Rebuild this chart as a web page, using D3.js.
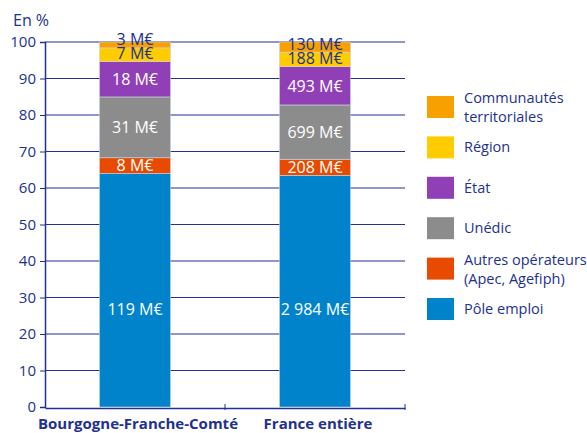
<!DOCTYPE html>
<html>
<head>
<meta charset="utf-8">
<script src="https://cdn.jsdelivr.net/npm/d3@7"></script>
<style>
  body { margin: 0; background: #fff; }
  text { font-family: "Open Sans", "Noto Sans", sans-serif; }
</style>
</head>
<body>
<div id="chart"></div>
<script>
  // Data
  var categories = ["Bourgogne-Franche-Comté", "France entière"];
  var series = ["Pôle emploi", "Autres opérateurs", "Unédic", "État", "Région", "Communautés"];
  var legendLabels = [["Pôle emploi"], ["Autres opérateurs", "(Apec, Agefiph)"], ["Unédic"], ["État"], ["Région"], ["Communautés", "territoriales"]];
  var poleEmploi = [119, 2984];
  var autresOperateurs = [8, 208];
  var unedic = [31, 699];
  var etat = [18, 493];
  var region = [7, 188];
  var communautes = [3, 130];
  var amountLabels = [
    ["119 M€", "2 984 M€"],
    ["8 M€", "208 M€"],
    ["31 M€", "699 M€"],
    ["18 M€", "493 M€"],
    ["7 M€", "188 M€"],
    ["3 M€", "130 M€"]
  ];
  var yTicks = [0, 10, 20, 30, 40, 50, 60, 70, 80, 90, 100];

  var colors = ["#0083ca", "#e84a00", "#8c8c8c", "#913fb7", "#ffcc00", "#f7a000"];
  var labelColors = ["#fff", "#fff", "#fff", "#fff", "#22318f", "#22318f"];
  var navy = "#22318f";

  var width = 587, height = 433;
  var svg = d3.select("#chart").append("svg")
      .attr("width", width)
      .attr("height", height);

  var rows = categories.map(function(c, i) {
    return {cat: c, "Pôle emploi": poleEmploi[i], "Autres opérateurs": autresOperateurs[i],
      "Unédic": unedic[i], "État": etat[i], "Région": region[i], "Communautés": communautes[i]};
  });

  var stack = d3.stack().keys(series).offset(d3.stackOffsetExpand);
  var layers = stack(rows);

  // Scales
  var xScale = d3.scaleBand()
      .domain(categories)
      .range([45, 405]);

  var yScale = d3.scaleLinear()
      .domain([0, 100])
      .range([407, 42]);

  var barW = 71;

  // Grid
  svg.append("g")
    .selectAll("line")
    .data(yTicks.filter(function(t) { return t > 0; }))
    .enter().append("line")
      .attr("x1", 45).attr("x2", 405)
      .attr("y1", function(d) { return yScale(d); })
      .attr("y2", function(d) { return yScale(d); })
      .attr("stroke", navy)
      .attr("stroke-width", 1.2);

  // Bars
  var layer = svg.selectAll(".layer")
      .data(layers)
      .enter().append("g")
      .attr("class", "layer")
      .attr("fill", function(d, i) { return colors[i]; });

  layer.selectAll("rect")
      .data(function(d) { return d; })
      .enter().append("rect")
      .attr("x", function(d) { return xScale(d.data.cat) + xScale.bandwidth() / 2 - barW / 2; })
      .attr("width", barW)
      .attr("y", function(d) { return yScale(d[1] * 100); })
      .attr("height", function(d) { return yScale(d[0] * 100) - yScale(d[1] * 100); })
      .attr("stroke", "#c9d3e6")
      .attr("stroke-width", 0.6);

  // Segment labels
  layers.forEach(function(l, si) {
    svg.append("g").selectAll("text")
      .data(l)
      .enter().append("text")
      .attr("x", function(d) { return xScale(d.data.cat) + xScale.bandwidth() / 2; })
      .attr("y", function(d) {
        // thin top segments: label sits on the segment's lower edge
        if (si >= 4) return yScale(d[0] * 100) - 2.5;
        var mid = (d[0] + d[1]) / 2 * 100;
        if (si === 0) mid = 26.7;
        return yScale(mid) + 5.7;
      })
      .attr("text-anchor", "middle")
      .attr("font-size", "16px")
      .attr("fill", labelColors[si])
      .text(function(d, i) { return amountLabels[si][i]; });
  });

  // Axes
  var yAxis = svg.append("g")
      .attr("transform", "translate(45,0)")
      .call(d3.axisLeft(yScale).tickValues(yTicks).tickSize(5).tickPadding(4));
  yAxis.select(".domain").attr("stroke", navy).attr("stroke-width", 1.5);
  yAxis.selectAll(".tick line").attr("stroke", navy);
  yAxis.selectAll(".tick text")
      .attr("fill", navy)
      .attr("font-size", "15px")
      .attr("font-family", "Open Sans, Noto Sans, sans-serif");

  var xAxis = svg.append("g")
      .attr("transform", "translate(0,408)")
      .call(d3.axisBottom(xScale).tickSize(0).tickPadding(10));
  xAxis.select(".domain").attr("stroke", navy).attr("stroke-width", 1.5);
  xAxis.selectAll(".tick text")
      .attr("fill", navy)
      .attr("dx", 3)
      .attr("font-size", "15px")
      .attr("font-weight", "bold")
      .attr("font-family", "Open Sans, Noto Sans, sans-serif");

  // small separators on x axis
  svg.append("g").selectAll("line")
    .data([categories[1]])
    .enter().append("line")
      .attr("x1", function(d) { return xScale(d); })
      .attr("x2", function(d) { return xScale(d); })
      .attr("y1", 404).attr("y2", 410)
      .attr("stroke", navy);
  svg.append("line")
      .attr("x1", 405).attr("x2", 405).attr("y1", 404).attr("y2", 410)
      .attr("stroke", navy);

  // Unit label
  svg.append("text")
      .attr("x", 13).attr("y", 26)
      .attr("fill", navy)
      .attr("font-size", "16px")
      .text("En %");

  // Legend (top to bottom: reversed series)
  var legendY = d3.scalePoint()
      .domain(series.slice().reverse())
      .range([107, 309]);

  var legend = svg.append("g").selectAll(".leg")
      .data(series.slice().reverse())
      .enter().append("g")
      .attr("class", "leg")
      .attr("transform", function(d) { return "translate(427," + legendY(d) + ")"; });

  legend.append("rect")
      .attr("x", 0).attr("y", -11)
      .attr("width", 27).attr("height", 22)
      .attr("fill", function(d) { return colors[series.indexOf(d)]; });

  legend.each(function(d) {
    var lines = legendLabels[series.indexOf(d)];
    var t = d3.select(this).append("text")
        .attr("fill", navy)
        .attr("font-size", "14.5px");
    lines.forEach(function(s, k) {
      t.append("tspan")
        .attr("x", 37)
        .attr("y", lines.length === 1 ? 5 : -4 + k * 19)
        .text(s);
    });
  });
</script>
</body>
</html>
